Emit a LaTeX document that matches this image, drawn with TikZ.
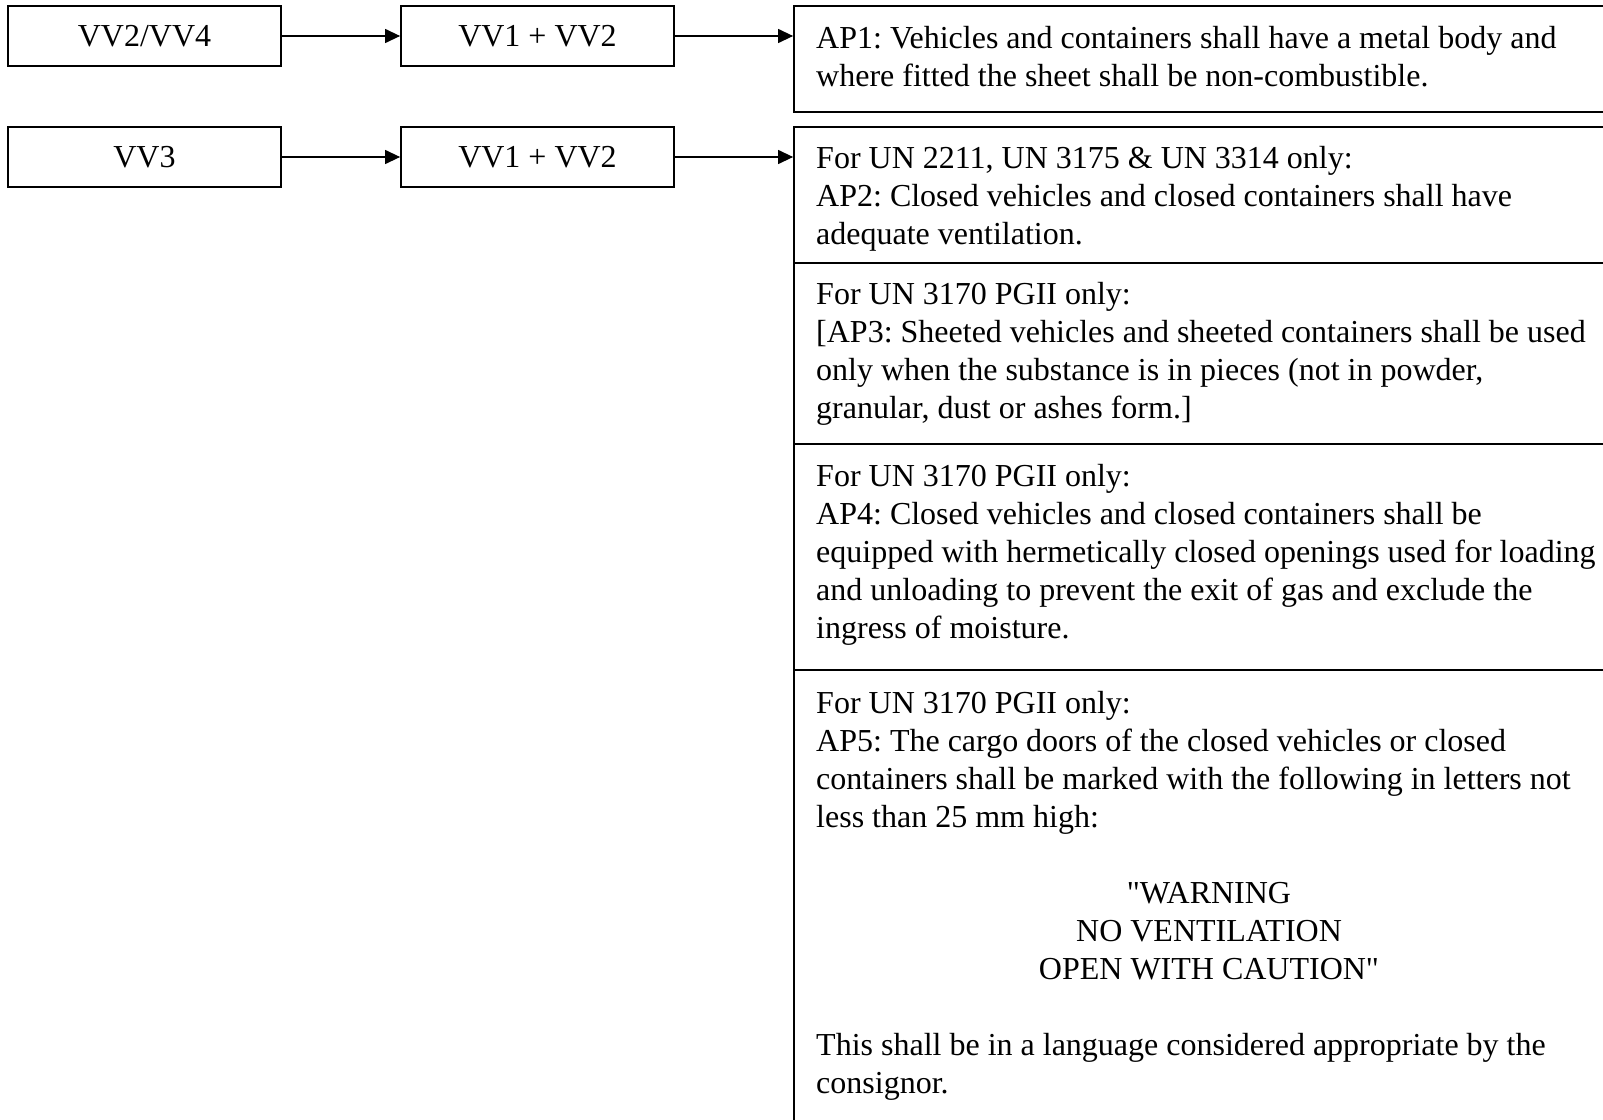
\documentclass[tikz,border=0pt]{standalone}
\usepackage{fontspec}
\setmainfont{Liberation Serif}
\usetikzlibrary{arrows.meta}
\newcommand\fstrut{\rule{0pt}{24pt}}
\font\rawq="Liberation Serif" at 32pt
\newcommand\sq{{\rawq"}}
\begin{document}
\frenchspacing
\begin{tikzpicture}[x=1pt,y=-1pt,
  every node/.style={font=\fontsize{32}{38}\selectfont},
  lbox/.style={draw, line width=1.8pt, minimum width=273pt, minimum height=60pt, inner sep=0pt},
  rbox/.style={draw, line width=1.8pt, minimum width=831pt, inner sep=0pt},
  txt/.style={anchor=north west, inner sep=0pt, align=left},
  ctxt/.style={anchor=north, inner sep=0pt, align=center},
  conn/.style={line width=1.3pt, -{Triangle[length=15pt,width=14pt]}},
  divider/.style={line width=1.8pt}]
\useasboundingbox (0,0) rectangle (1603,1119);
\clip (0,0) rectangle (1603,1119);
\fill[white] (0,0) rectangle (1603,1119);
% left boxes
\node[lbox] (a1) at (144.5,36) {VV2/VV4};
\node[lbox] (a2) at (537.5,36) {VV1 + VV2};
\node[lbox] (b1) at (144.5,157) {VV3};
\node[lbox] (b2) at (537.5,157) {VV1 + VV2};
% right boxes
\node[rbox, minimum height=106pt] (r1) at (1209.5,59) {};
\node[rbox, minimum height=1008pt] (r2) at (1209.5,631) {};
\draw[divider] (794,263) -- (1625,263);
\draw[divider] (794,444) -- (1625,444);
\draw[divider] (794,670) -- (1625,670);
% connectors
\draw[conn] (a1.east) -- (a2.west);
\draw[conn] (a2.east) -- (a2.east -| r1.west);
\draw[conn] (b1.east) -- (b2.west);
\draw[conn] (b2.east) -- (b2.east -| r2.west);
% texts
\node[txt] (t1) at (816,24) {\fstrut AP1: Vehicles and containers shall have a metal body and\\
where fitted the sheet shall be non-combustible.};
\node[txt] (t2) at (816,144) {\fstrut For UN 2211, UN 3175 \& UN 3314 only:\\
AP2: Closed vehicles and closed containers shall have\\
adequate ventilation.};
\node[txt] (t3) at (816,280) {\fstrut For UN 3170 PGII only:\\
{[}AP3: Sheeted vehicles and sheeted containers shall be used\\
only when the substance is in pieces (not in powder,\\
granular, dust or ashes form.]};
\node[txt] (t4) at (816,462) {\fstrut For UN 3170 PGII only:\\
AP4: Closed vehicles and closed containers shall be\\
equipped with hermetically closed openings used for loading\\
and unloading to prevent the exit of gas and exclude the\\
ingress of moisture.};
\node[txt] (t5a) at (816,689) {\fstrut For UN 3170 PGII only:\\
AP5: The cargo doors of the closed vehicles or closed\\
containers shall be marked with the following in letters not\\
less than 25 mm high:};
\node[ctxt] (t5b) at (1209,879) {\fstrut \sq WARNING\\
NO VENTILATION\\
OPEN WITH CAUTION\sq};
\node[txt] (t5c) at (816,1031) {\fstrut This shall be in a language considered appropriate by the\\
consignor.};
\end{tikzpicture}
\end{document}
